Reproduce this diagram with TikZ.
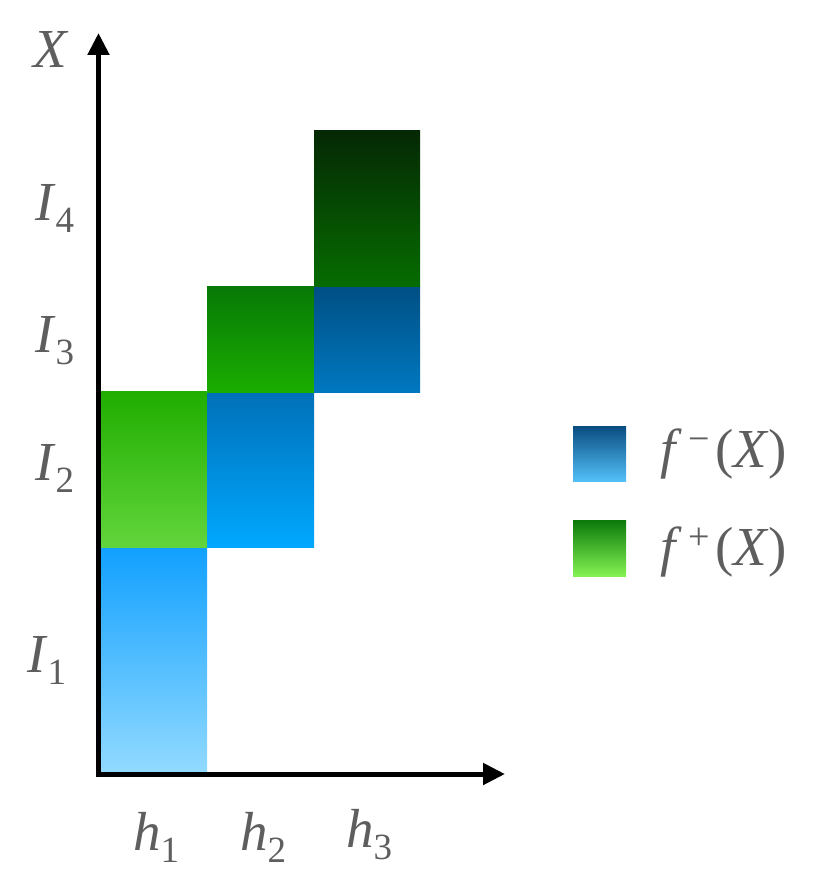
\documentclass[tikz,border=0pt]{standalone}
\usepackage{fontspec}
\setmainfont{LiberationSerif}[Extension=.ttf,UprightFont=*-Regular,ItalicFont=*-Italic,BoldFont=*-Bold,BoldItalicFont=*-BoldItalic]
\usetikzlibrary{arrows.meta,shadings}
\definecolor{txt}{HTML}{5E5E5E}
\newcommand\mylab[2]{\textit{#1}\raisebox{-12pt}{\fontsize{37}{37}\selectfont #2}}
\newcommand\mysup[1]{\kern7pt\raisebox{16pt}{\fontsize{38}{38}\selectfont #1}\kern5pt}
\begin{document}
\begin{tikzpicture}[x=1pt,y=-1pt,
  lbl/.style={anchor=base west,inner sep=0pt,text=txt,font=\fontsize{55}{55}\selectfont},
  cell/.style={draw=none},
  axis/.style={line width=5pt,-{Triangle[length=22pt,width=21pt]}}]
\useasboundingbox (0,0) rectangle (830,896);
\definecolor{aT}{HTML}{11A0FF}\definecolor{aB}{HTML}{92DAFF}
\definecolor{bT}{HTML}{20AD00}\definecolor{bB}{HTML}{62D53C}
\definecolor{cT}{HTML}{0070B8}\definecolor{cB}{HTML}{00A8FF}
\definecolor{dT}{HTML}{077907}\definecolor{dB}{HTML}{1AAD00}
\definecolor{eT}{HTML}{004F84}\definecolor{eB}{HTML}{0078C0}
\definecolor{fT}{HTML}{052805}\definecolor{fB}{HTML}{066C00}
\definecolor{gT}{HTML}{0A4C80}\definecolor{gB}{HTML}{52C0F8}
\definecolor{hT}{HTML}{0A790A}\definecolor{hB}{HTML}{84F252}
\shade[cell,top color=aT,bottom color=aB] (99,547) rectangle (207,773);
\shade[cell,top color=bT,bottom color=bB] (99,391) rectangle (207,547);
\shade[cell,top color=cT,bottom color=cB] (207,392) rectangle (314,547);
\shade[cell,top color=dT,bottom color=dB] (207,286) rectangle (314,392);
\shade[cell,top color=eT,bottom color=eB] (314,286) rectangle (420,392);
\shade[cell,top color=fT,bottom color=fB] (314,131) rectangle (420,286);
% axes
\coordinate (o) at (96,774);
\coordinate (ytip) at (98.5,33);
\coordinate (xtip) at (505,774);
\draw[axis] (98.5,776.5) -- (ytip);
\draw[axis] (96,774) -- (xtip);
% labels
\node[lbl] (lx) at (33,68) {\textit{X}};
\node[lbl] (l4) at (35,220) {\mylab{I}{4}};
\node[lbl] (l3) at (35,352) {\mylab{I}{3}};
\node[lbl] (l2) at (35,480) {\mylab{I}{2}};
\node[lbl] (l1) at (27,672) {\mylab{I}{1}};
\node[lbl] (h1) at (133,850) {\mylab{h}{1}};
\node[lbl] (h2) at (240,850) {\mylab{h}{2}};
\node[lbl] (h3) at (346,847) {\mylab{h}{3}};
% legend
\shade[cell,top color=gT,bottom color=gB] (573,426) rectangle (626,481);
\shade[cell,top color=hT,bottom color=hB] (573,520) rectangle (626,576);
\node[lbl] (fm) at (660,467) {\textit{f}\mysup{−}(\textit{X})};
\node[lbl] (fp) at (660,565) {\textit{f}\mysup{+}(\textit{X})};
\end{tikzpicture}
\end{document}
